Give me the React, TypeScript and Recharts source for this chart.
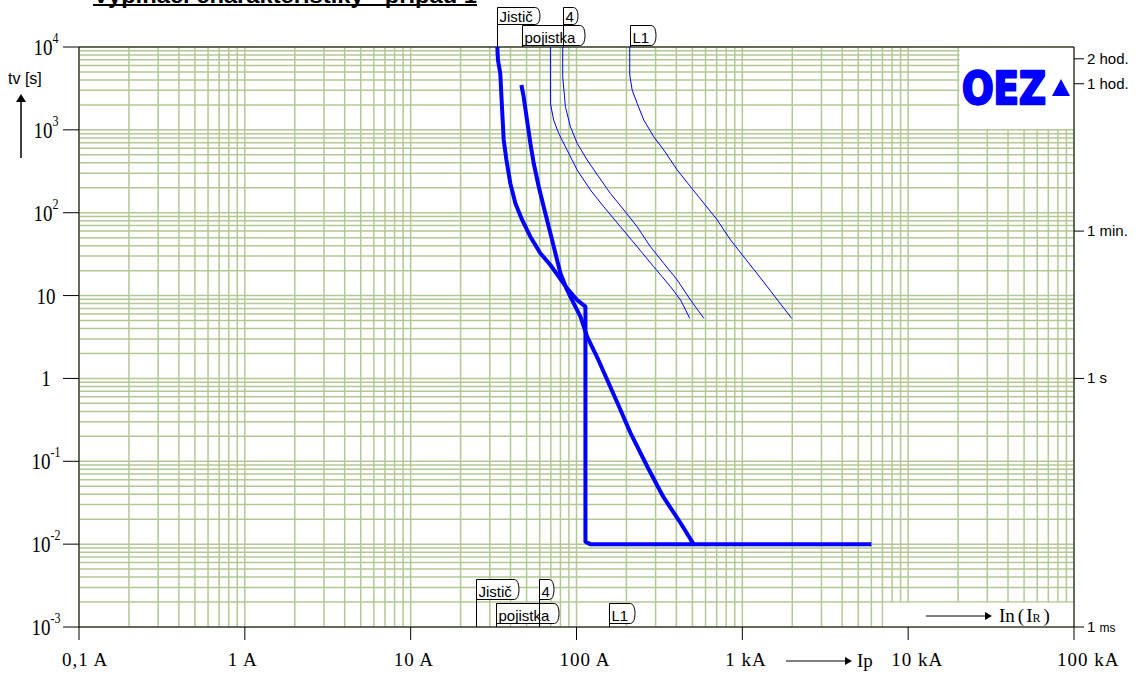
import React from "react";
import {
  LineChart,
  Line,
  XAxis,
  YAxis,
  CartesianGrid,
  ReferenceArea,
  ReferenceLine,
} from "recharts";

// current axis (A), log
const currentTicks = [0.1, 1, 10, 100, 1000, 10000, 100000];
const currentTickLabels = ["0,1 A", "1 A", "10 A", "100 A", "1 kA", "10 kA", "100 kA"];

// time axis (s), log
const timeTicks = [0.001, 0.01, 0.1, 1, 10, 100, 1000, 10000];
const timeTickBase = ["10", "10", "10", "1", "10", "10", "10", "10"];
const timeTickExp = ["-3", "-2", "-1", "", "", "2", "3", "4"];

// right axis marks
const timeMarks = [7200, 3600, 60, 1, 0.001];
const timeMarkLabels = ["2 hod.", "1 hod.", "1 min.", "1 s", "1 ms"];

// Jistič (thick, left)
const jisticI = [33.3, 33.6, 34.7, 35.6, 36.4, 37.8, 39.9, 42.8, 47.0, 52.7, 60.5, 69.6, 78.1, 87.7, 100.9, 113.2, 113.2, 121, 6000];
const jisticT = [10000, 6970, 4815, 1738, 755, 433, 226, 130, 81.7, 51.4, 32.4, 23.4, 16.9, 12.2, 8.85, 7.35, 0.0107, 0.01, 0.01];

// pojistka (thick, right)
const pojistkaI = [46.5, 48.0, 50.3, 52.7, 55.2, 59.2, 63.4, 69.6, 74.6, 80.0, 87.7, 96.2, 105.6, 115.9, 135.5, 176.6, 211.5, 268, 334, 424, 508];
const pojistkaT = [3478, 2512, 1315, 689, 395, 206, 118, 56.5, 32.4, 18.6, 11.7, 8.07, 5.56, 3.19, 1.67, 0.506, 0.22, 0.0853, 0.0371, 0.018, 0.01];

// thin curves
const thinAI = [69.6, 69.6, 72.8, 78.1, 87.7, 100.9, 121.3, 146, 184, 232, 292, 369, 424, 482];
const thinAT = [10000, 2094, 1315, 908, 571, 328, 188, 118, 67.8, 38.9, 22.3, 12.8, 8.85, 5.32];
const thinBI = [82.6, 82.6, 85.7, 91.9, 100.9, 115.9, 136, 160, 193, 232, 279, 336, 405, 487, 586];
const thinBT = [10000, 4385, 1905, 1092, 689, 433, 272, 171, 108, 67.8, 38.9, 24.5, 15.4, 8.85, 5.32];
const l1I = [209.4, 209.4, 216.6, 232, 254.5, 292, 336, 405, 487, 586, 706, 849, 1288, 1982];
const l1T = [10000, 4592, 3027, 2094, 1315, 827, 571, 328, 206, 130, 81.7, 46.9, 16.3, 5.32];

// label tabs (current where the tab sits)
const topTabText = ["pojistka", "L1", "Jistič", "4"];
const topTabAt = [47.1, 209.4, 33.3, 82.6];
const bottomTabText = ["pojistka", "L1", "Jistič", "4"];
const bottomTabAt = [32.7, 158, 24.9, 59.7];

const zip = (a: number[], b: number[]) => a.map((i, k) => ({ i, t: b[k] }));

const minors = (decades: number[]) => {
  const out: number[] = [];
  decades.slice(0, -1).forEach((d) => {
    for (let m = 1; m < 10; m++) out.push(d * m);
  });
  out.push(decades[decades.length - 1]);
  return out;
};

const gridX = minors(currentTicks);
const gridY = minors(timeTicks);

// plot geometry
const W = 1142;
const H = 675;
const PL = 79;
const PR = 1074;
const PT = 47;
const PB = 627;
const px = (v: number) => PL + (Math.log10(v) + 1) * ((PR - PL) / 6);

const SANS = "'Liberation Sans', Arial, sans-serif";
const SERIF = "'Liberation Serif', 'DejaVu Serif', serif";
const BLUE = "#0000ff";

const XTick = (props: any) => {
  const { x, y, index } = props;
  return (
    <text x={x - 17} y={y + 24} fontFamily={SERIF} fontSize={19} letterSpacing={1} fill="#000">
      {currentTickLabels[index]}
    </text>
  );
};

const LeftTick = (props: any) => {
  const { x, y, index } = props;
  const exp = timeTickExp[index];
  return (
    <g transform={`translate(${x - 15},${y + 8})`}>
      <text textAnchor="middle" transform="scale(1,1.2)" fontFamily={SERIF} fontSize={19} fill="#000">
        {timeTickBase[index]}
        {exp && (
          <tspan fontSize={12} dy={-10}>
            {exp}
          </tspan>
        )}
      </text>
    </g>
  );
};

const RightTick = (props: any) => {
  const { x, y, index } = props;
  const label = timeMarkLabels[index];
  if (label === "1 ms") {
    return (
      <text x={x + 1} y={y + 5} fontFamily={SANS} fontSize={15} fill="#000">
        1 <tspan fontSize={12}>ms</tspan>
      </text>
    );
  }
  return (
    <text x={x + 1} y={y + 5} fontFamily={SANS} fontSize={15} fill="#000">
      {label}
    </text>
  );
};

const tabWidth: Record<string, number> = { Jistič: 41, "4": 13, pojistka: 61, L1: 24 };

const Tab = ({ x, top, bottom, text, line }: { x: number; top: number; bottom: number; text: string; line: [number, number] }) => {
  const w = tabWidth[text];
  return (
    <g>
      <path
        d={`M ${x} ${top} H ${x + w - 3} C ${x + w + 3} ${top} ${x + w + 3} ${bottom} ${x + w - 3} ${bottom} H ${x} Z`}
        fill="#fff"
        stroke="#000"
        strokeWidth={1}
      />
      <text x={x + 2} y={bottom - 3} fontFamily={SANS} fontSize={15} fill="#000">
        {text}
      </text>
      <line x1={x} x2={x} y1={line[0]} y2={line[1]} stroke="#000" strokeWidth={1} />
    </g>
  );
};

export default function App() {
  const rowTop = [
    [25, 45],
    [25, 45],
    [7, 24],
    [7, 24],
  ];
  const rowBottom = [
    [603, 623],
    [603, 623],
    [579, 599],
    [579, 599],
  ];
  return (
    <div style={{ position: "absolute", left: 0, top: 0, width: W, height: H, background: "#fff" }}>
      <LineChart width={W} height={H} margin={{ top: PT, right: 8, bottom: 18, left: 29 }}>
        <XAxis
          xAxisId="main"
          type="number"
          dataKey="i"
          scale="log"
          domain={[0.1, 100000]}
          ticks={currentTicks}
          interval={0}
          allowDataOverflow
          height={30}
          tickSize={13}
          tick={<XTick />}
          axisLine={{ stroke: "#000" }}
          tickLine={{ stroke: "#000" }}
        />
        <YAxis
          yAxisId="left"
          type="number"
          scale="log"
          domain={[0.001, 10000]}
          ticks={timeTicks}
          interval={0}
          allowDataOverflow
          width={50}
          tickSize={16}
          tick={<LeftTick />}
          axisLine={{ stroke: "#000" }}
          tickLine={{ stroke: "#000" }}
        />
        <YAxis
          yAxisId="right"
          orientation="right"
          type="number"
          scale="log"
          domain={[0.001, 10000]}
          ticks={timeMarks}
          interval={0}
          allowDataOverflow
          width={60}
          tickSize={10}
          tick={<RightTick />}
          axisLine={{ stroke: "#000" }}
          tickLine={{ stroke: "#000" }}
        />
        <XAxis xAxisId="grid" type="number" dataKey="i" scale="log" domain={[0.1, 100000]} ticks={gridX} interval={0} allowDataOverflow hide height={0} />
        <YAxis yAxisId="grid" type="number" scale="log" domain={[0.001, 10000]} ticks={gridY} interval={0} allowDataOverflow hide width={0} />
        <CartesianGrid xAxisId="grid" yAxisId="grid" stroke="#b2c894" strokeWidth={1.5} />
        <ReferenceArea xAxisId="main" yAxisId="left" x1={20400} x2={99000} y1={1025} y2={9800} fill="#fff" fillOpacity={1} stroke="none" />
        <ReferenceArea xAxisId="main" yAxisId="left" x1={7100} x2={99000} y1={0.00102} y2={0.00196} fill="#fff" fillOpacity={1} stroke="none" />
        <ReferenceLine xAxisId="main" yAxisId="left" y={10000} stroke="#000" strokeWidth={1} />
        <Line xAxisId="main" yAxisId="left" data={zip(thinAI, thinAT)} dataKey="t" type="linear" stroke={BLUE} strokeWidth={1} dot={false} isAnimationActive={false} />
        <Line xAxisId="main" yAxisId="left" data={zip(thinBI, thinBT)} dataKey="t" type="linear" stroke={BLUE} strokeWidth={1} dot={false} isAnimationActive={false} />
        <Line xAxisId="main" yAxisId="left" data={zip(l1I, l1T)} dataKey="t" type="linear" stroke={BLUE} strokeWidth={1} dot={false} isAnimationActive={false} />
        <Line xAxisId="main" yAxisId="left" data={zip(jisticI, jisticT)} dataKey="t" type="linear" stroke={BLUE} strokeWidth={4} strokeLinejoin="round" dot={false} isAnimationActive={false} />
        <Line xAxisId="main" yAxisId="left" data={zip(pojistkaI, pojistkaT)} dataKey="t" type="linear" stroke={BLUE} strokeWidth={4} strokeLinejoin="round" dot={false} isAnimationActive={false} />
      </LineChart>

      <svg width={W} height={H} style={{ position: "absolute", left: 0, top: 0, pointerEvents: "none" }}>
        {/* title, cut at the top edge */}
        <text x={93} y={3} fontFamily={SANS} fontWeight="bold" fontSize={22} textLength={384} lengthAdjust="spacingAndGlyphs" fill="#000">
          Vypínací charakteristiky - případ 1
        </text>
        <rect x={93} y={4} width={384} height={2} fill="#000" />

        {/* y axis title */}
        <text x={8} y={84} fontFamily={SANS} fontSize={16} fill="#000">
          tv [s]
        </text>
        <line x1={21} x2={21} y1={158} y2={100} stroke="#000" strokeWidth={1.5} />
        <polygon points="21,94 16,102 26,102" fill="#000" />

        {/* logo */}
        <text x={962} y={104} fontFamily="'DejaVu Sans', sans-serif" fontWeight="bold" fontSize={44} textLength={84} lengthAdjust="spacingAndGlyphs" fill={BLUE} stroke={BLUE} strokeWidth={2.5} strokeLinejoin="round">
          OEZ
        </text>
        <polygon points="1052,96 1070,96 1061,79" fill={BLUE} />

        {/* In(IR) */}
        <line x1={926} x2={986} y1={616} y2={616} stroke="#000" strokeWidth={1} />
        <polygon points="985,612 992,616 985,620" fill="#000" />
        <text x={999} y={622} fontFamily={SERIF} fontSize={19} fill="#000">
          In
          <tspan dx={3}>(</tspan>
          <tspan dx={2}>I</tspan>
          <tspan fontSize={12}>R</tspan>
          <tspan dx={3}>)</tspan>
        </text>

        {/* Ip arrow */}
        <line x1={786} x2={846} y1={661} y2={661} stroke="#000" strokeWidth={1} />
        <polygon points="845,657 852,661 845,665" fill="#000" />
        <text x={857} y={667} fontFamily={SERIF} fontSize={19} fill="#000">
          Ip
        </text>

        {/* tabs */}
        {topTabText.map((t, k) => (
          <Tab key={"t" + k} x={Math.round(px(topTabAt[k])) + 0.5} top={rowTop[k][0] + 0.5} bottom={rowTop[k][1] + 0.5} text={t} line={[rowTop[k][1], PT]} />
        ))}
        {bottomTabText.map((t, k) => (
          <Tab key={"b" + k} x={Math.round(px(bottomTabAt[k])) + 0.5} top={rowBottom[k][0] + 0.5} bottom={rowBottom[k][1] + 0.5} text={t} line={[rowBottom[k][1], PB]} />
        ))}
      </svg>
    </div>
  );
}
